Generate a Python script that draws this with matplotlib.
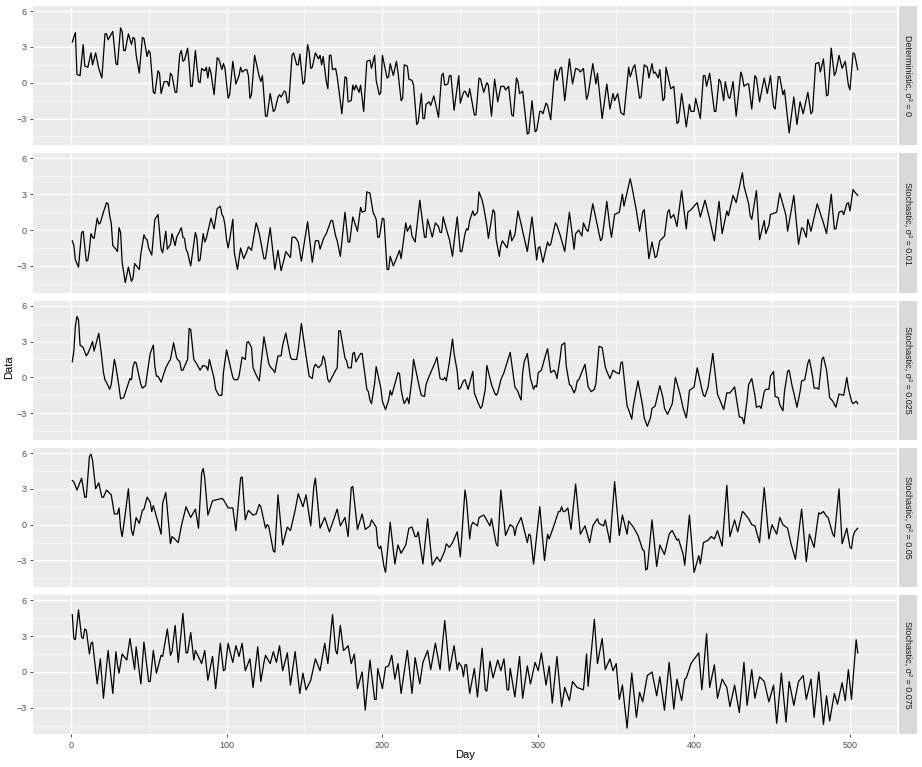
import numpy as np
import matplotlib.pyplot as plt

plt.rcParams['font.family'] = ['Liberation Sans', 'DejaVu Sans']

# facet labels (top to bottom)
panel_labels = ['Deterministic, σ² = 0',
                'Stochastic, σ² = 0.01',
                'Stochastic, σ² = 0.025',
                'Stochastic, σ² = 0.05',
                'Stochastic, σ² = 0.075']

x_ticks = [0, 100, 200, 300, 400, 500]
y_ticks = [-3, 0, 3, 6]

# (day, value), one list per facet
det_0 = [
    (1, 3.4), (3, 4.2), (4, 0.7), (6, 0.6), (8, 3.2), (9, 1.4), (11, 1.3), (13, 2.5), (14, 1.5),
    (16, 2.5), (18, 1.2), (20, 0.4), (22, 4.1), (23, 4.1), (24, 3.6), (27, 4.3), (29, 1.6), (30, 1.5),
    (32, 4.6), (33, 4.3), (34, 2.7), (35, 2.7), (37, 4.1), (39, 3.2), (40, 3.8), (41, 3.7), (42, 2.3),
    (44, 0.8), (46, 3.8), (47, 3.7), (49, 2.2), (50, 2.7), (51, 2.5), (53, -0.8), (54, -0.9), (56, 1.0),
    (57, 0.8), (58, -0.9), (60, 0.1), (62, 0.1), (63, -0.3), (64, 0.8), (65, 0.6), (67, -0.8), (68, -0.8),
    (70, 2.4), (71, 2.7), (72, 1.8), (73, 1.9), (75, 2.9), (76, 1.6), (77, -0.3), (78, -0.3), (80, 2.7),
    (82, 0.1), (83, 0.0), (84, 1.2), (86, 1.0), (87, 1.3), (88, 0.4), (89, 1.3), (90, 0.8), (92, -1.0),
    (94, 2.1), (95, 2.0), (97, 1.1), (98, 1.6), (99, 1.2), (101, -1.3), (102, -1.0), (104, 1.8),
    (106, -0.1), (108, 0.6), (109, 1.3), (110, 0.9), (112, 1.1), (113, 1.1), (114, 0.6), (115, -1.3),
    (116, -1.0), (118, 2.3), (121, 0.5), (122, 0.1), (123, 0.6), (125, -2.8), (126, -2.8), (128, -0.9),
    (130, -2.4), (131, -2.3), (133, -1.2), (134, -1.0), (135, -1.2), (137, -0.7), (138, -0.8),
    (139, -1.7), (140, -1.6), (142, 2.3), (143, 2.5), (145, 1.5), (146, 1.5), (147, 2.4), (149, -0.1),
    (150, 0.1), (152, 3.2), (153, 2.6), (154, 1.2), (155, 1.3), (157, 2.5), (159, 2.0), (160, 2.3),
    (161, 1.5), (162, 2.2), (164, 0.1), (165, -0.5), (166, 2.3), (167, 2.3), (168, 1.1), (170, 1.2),
    (171, 0.5), (174, -2.6), (176, 0.5), (177, 0.4), (178, -1.6), (180, -1.5), (181, -0.2), (182, -0.6),
    (183, -0.2), (185, -0.8), (186, -0.2), (188, -2.4), (190, 1.8), (192, 1.9), (193, 1.2), (195, 2.3),
    (196, 0.2), (198, -1.0), (199, -0.8), (200, 2.3), (203, 0.4), (204, 0.5), (205, 1.6), (207, 0.6),
    (209, 1.8), (210, 0.9), (212, -1.5), (213, -1.3), (214, 1.5), (216, 1.4), (217, 0.3), (219, 0.2),
    (220, -0.2), (222, -3.5), (223, -3.3), (225, -0.9), (226, -3.0), (227, -3.0), (228, -1.8),
    (230, -1.6), (231, -1.9), (233, -1.1), (236, -2.9), (238, 0.6), (239, 0.8), (240, -0.2), (242, -0.1),
    (243, 0.6), (244, 0.6), (246, -2.3), (249, 0.6), (250, -1.7), (252, -0.8), (253, -0.7), (255, -1.2),
    (256, -0.5), (259, -2.7), (260, -2.7), (262, 0.4), (263, 0.3), (265, -0.8), (267, 0.0), (268, -0.2),
    (270, -2.8), (272, 0.3), (274, -1.6), (276, -0.3), (278, -0.3), (279, -0.6), (281, -0.3), (283, -2.7),
    (284, -2.8), (286, 0.4), (287, 0.1), (288, -0.9), (290, -0.7), (293, -4.3), (294, -4.2), (296, -1.5),
    (298, -4.1), (299, -4.0), (301, -2.4), (302, -2.4), (303, -2.6), (305, -1.7), (306, -1.9),
    (308, -3.1), (310, 0.1), (311, 1.1), (312, 0.2), (314, 1.2), (315, 1.3), (317, -1.5), (320, 2.0),
    (322, -0.1), (324, 1.2), (326, 1.1), (327, 0.9), (329, 1.2), (331, -1.4), (332, -1.0), (335, 1.6),
    (337, -0.1), (338, 0.8), (341, -3.0), (344, -0.1), (346, -2.2), (348, -0.9), (349, -1.5), (351, -0.9),
    (353, -2.5), (355, -2.7), (358, 1.3), (359, 0.5), (361, 1.3), (362, 1.5), (365, -1.3), (366, -1.2),
    (368, 1.5), (370, 1.3), (371, 0.4), (373, 1.6), (374, 0.8), (375, 0.9), (377, 0.4), (378, 1.1),
    (380, -1.5), (381, -1.3), (382, 1.3), (385, -0.5), (387, -0.3), (389, -3.4), (390, -3.3), (392, -0.9),
    (395, -3.7), (397, -1.8), (398, -2.4), (400, -2.4), (401, -1.3), (404, -3.0), (406, 0.6), (407, 0.6),
    (408, -0.3), (410, 0.8), (413, -2.4), (414, -2.4), (416, 0.3), (417, 0.1), (419, -1.5), (420, 0.1),
    (422, -1.2), (423, -1.3), (425, 0.1), (427, -2.8), (430, 0.9), (431, 0.5), (432, -0.3), (434, -0.1),
    (435, -0.1), (437, -2.2), (439, 0.6), (440, 0.4), (442, -1.6), (445, 0.4), (447, -0.9), (449, 0.6),
    (451, -2.0), (452, -2.2), (454, 0.5), (455, 0.5), (457, -1.0), (458, -0.6), (461, -4.2), (464, -1.2),
    (466, -3.5), (468, -1.6), (470, -2.6), (473, -0.8), (475, -2.6), (476, -2.4), (478, 1.6), (480, 1.7),
    (481, 0.9), (483, 2.0), (485, -1.1), (486, -1.0), (488, 2.9), (490, 0.6), (491, 0.9), (493, 2.3),
    (495, 1.2), (497, 1.8), (499, -0.2), (500, -0.6), (502, 2.5), (503, 2.4), (505, 1.1)]

sto_010 = [
    (1, -0.9), (2, -1.3), (3, -2.5), (5, -3.1), (7, -0.2), (8, -0.1), (10, -2.6), (11, -2.5), (12, -1.6),
    (13, -0.3), (14, -0.6), (15, -0.7), (17, 1.0), (18, 0.5), (19, 0.6), (21, 1.5), (23, 2.3), (24, 2.2),
    (25, 1.2), (26, 0.6), (27, -1.3), (29, -1.6), (30, -1.8), (31, 0.2), (32, -0.2), (33, -2.7),
    (35, -4.4), (37, -3.1), (39, -4.3), (40, -4.0), (41, -2.8), (44, -3.3), (45, -2.0), (47, -0.4),
    (48, -0.7), (49, -0.8), (50, -1.5), (52, -2.1), (54, 0.9), (56, 1.3), (57, -0.2), (58, -1.6),
    (59, -1.9), (61, -0.1), (62, -1.6), (64, -1.2), (65, -0.3), (67, -1.3), (68, -0.6), (71, 0.2),
    (72, -0.6), (73, -0.7), (74, -1.6), (75, -1.9), (77, -3.0), (80, -0.2), (81, -0.7), (82, -2.6),
    (83, -2.5), (85, -0.3), (86, -1.0), (87, -0.7), (90, 1.0), (92, 0.1), (94, 1.8), (96, 2.0), (97, 1.3),
    (98, 1.1), (99, 0.4), (100, -0.8), (101, -1.5), (102, -0.8), (104, 0.9), (105, -1.9), (107, -3.3),
    (109, -1.5), (111, -2.4), (113, -1.8), (114, -1.4), (116, -1.7), (119, 0.6), (120, 0.2), (121, -0.3),
    (124, -2.4), (125, -2.4), (128, 0.2), (131, -3.3), (133, -1.7), (135, -3.4), (137, -2.4), (138, -1.8),
    (141, -2.3), (142, -0.6), (144, -0.6), (146, -1.0), (148, -2.6), (152, 0.7), (155, -2.7), (157, -0.9),
    (159, -0.9), (160, -1.6), (162, -0.8), (163, -0.5), (164, -0.3), (167, 0.8), (168, 0.8), (170, -0.5),
    (171, -0.9), (173, -2.2), (176, 1.5), (178, -1.0), (179, -1.0), (181, 1.1), (184, -0.1), (186, 1.9),
    (187, 1.5), (189, 1.6), (190, 3.2), (192, 3.1), (194, 1.5), (196, 0.9), (197, -0.6), (198, -0.6),
    (200, 1.0), (201, 0.9), (203, -3.3), (204, -3.3), (205, -2.2), (207, -3.0), (208, -2.7), (211, -1.7),
    (212, -2.4), (215, 0.6), (216, -0.1), (218, 0.4), (219, -0.5), (221, -1.0), (224, 2.5), (227, -0.6),
    (228, -0.6), (229, 0.9), (231, -0.1), (232, -0.6), (234, 0.6), (236, 0.3), (237, -0.2), (238, -0.2),
    (239, 1.1), (241, 0.1), (243, -0.8), (245, -2.2), (246, -1.0), (248, 1.1), (250, -1.8), (251, -1.8),
    (253, -0.3), (254, 0.1), (255, 0.0), (256, 0.8), (258, 1.6), (259, 1.2), (261, 1.5), (262, 3.2),
    (264, 2.5), (265, 1.9), (267, 0.4), (268, -0.7), (271, 1.7), (272, 1.5), (273, -0.8), (275, -2.2),
    (276, -1.3), (277, -0.9), (279, -1.3), (280, -1.5), (282, 0.0), (283, -0.9), (285, -0.4), (287, 1.6),
    (289, 0.5), (290, -0.1), (293, -1.8), (296, 1.1), (299, -2.5), (300, -1.5), (301, -1.4), (303, -2.7),
    (306, -1.0), (307, -1.3), (308, -1.2), (311, 0.6), (312, 0.4), (314, -0.4), (317, -1.8), (320, 1.5),
    (323, -1.6), (324, -0.3), (326, 0.0), (328, -0.5), (329, 0.6), (331, 0.0), (332, -0.1), (335, 2.2),
    (340, -0.9), (341, -0.7), (344, 2.4), (346, 0.2), (347, -0.6), (349, 1.3), (352, 1.5), (354, 3.0),
    (355, 2.0), (359, 4.3), (360, 3.7), (363, 1.6), (365, -0.1), (367, 1.5), (368, 1.7), (371, -2.4),
    (373, -1.0), (375, -2.3), (376, -2.2), (378, -0.9), (381, -0.5), (383, 1.5), (384, 1.7), (385, 1.0),
    (387, 1.3), (389, 0.3), (392, 3.3), (395, 0.1), (396, 1.5), (398, 1.7), (402, 2.3), (404, 1.1),
    (407, 2.5), (410, 0.9), (413, -0.9), (416, 2.4), (418, -0.3), (421, 1.6), (422, 1.2), (425, 2.9),
    (427, 2.3), (431, 4.8), (432, 3.7), (435, 2.2), (436, 1.2), (437, 0.9), (440, 3.3), (442, -0.8),
    (445, 0.8), (446, -0.3), (448, 0.4), (449, 1.3), (453, 1.5), (455, 3.1), (459, 1.2), (460, -0.1),
    (464, 2.9), (467, -1.2), (469, 0.2), (470, 0.1), (472, -0.6), (473, 0.9), (475, -0.1), (479, 2.2),
    (483, 0.6), (485, -0.3), (488, 3.0), (490, 0.1), (491, 0.1), (493, 1.5), (495, 1.6), (496, 1.3),
    (498, 2.2), (499, 2.3), (500, 1.6), (502, 3.4), (503, 3.2), (505, 2.9)]

sto_025 = [
    (1, 1.3), (2, 2.2), (3, 4.3), (4, 5.1), (5, 4.8), (6, 2.7), (8, 2.5), (10, 1.8), (11, 2.0), (12, 2.3),
    (14, 3.0), (15, 2.2), (18, 3.7), (20, 1.6), (21, 0.4), (22, -0.2), (24, -0.7), (25, -1.0), (26, -0.6),
    (28, 1.5), (29, 0.9), (31, -0.8), (32, -1.8), (34, -1.7), (36, -0.9), (38, -0.1), (39, -0.2),
    (40, 0.9), (41, 1.3), (42, 1.2), (45, -0.6), (46, -0.9), (47, -0.8), (48, -0.7), (51, 2.0), (53, 2.7),
    (54, 0.9), (55, 0.1), (56, 0.1), (58, -0.4), (61, 0.8), (63, 1.3), (64, 1.5), (66, 2.9), (68, 1.6),
    (70, 1.3), (71, 0.6), (72, 0.6), (75, 1.5), (76, 4.1), (77, 4.0), (79, 1.5), (81, 1.1), (83, 0.6),
    (85, 1.0), (87, 0.9), (88, 0.6), (89, 1.5), (92, -0.1), (93, -1.0), (95, -1.5), (97, -1.5), (98, 0.4),
    (100, 2.3), (103, 0.6), (104, 0.0), (105, -0.2), (107, -0.2), (108, 0.1), (110, 1.7), (112, 1.5),
    (113, 2.9), (114, 3.0), (116, 2.5), (117, 0.8), (118, 0.5), (119, 0.2), (121, -0.3), (124, 3.4),
    (127, 1.2), (128, 0.9), (130, 0.6), (131, 0.4), (133, 1.8), (135, 1.8), (136, 2.7), (138, 3.7),
    (141, 1.7), (142, 1.5), (144, 1.5), (145, 1.5), (146, 2.3), (148, 4.5), (151, 1.8), (153, 0.1),
    (155, -0.1), (156, 0.8), (157, 1.1), (159, 0.8), (161, 1.1), (162, 1.8), (163, 1.5), (165, -0.2),
    (166, -0.4), (170, 0.6), (171, 0.8), (172, 3.9), (173, 3.9), (176, 1.6), (177, 1.4), (178, 0.8),
    (180, 0.8), (181, 2.0), (182, 2.1), (183, 1.3), (186, 2.0), (187, 2.0), (190, -1.0), (191, -1.2),
    (192, -1.9), (193, -2.2), (195, -0.5), (196, 0.9), (199, -0.9), (200, -2.0), (202, -2.7), (204, -1.9),
    (205, -1.1), (206, -1.5), (210, 0.4), (211, 0.3), (212, -1.0), (213, -1.7), (214, -2.2), (216, -1.7),
    (217, -2.2), (219, -0.1), (220, 1.5), (224, -1.0), (225, -1.5), (227, -1.6), (228, -0.6), (230, 0.1),
    (234, 1.3), (235, 1.7), (237, -0.1), (239, -0.2), (240, 0.0), (241, -0.3), (243, 1.3), (245, 3.2),
    (246, 2.0), (248, 0.5), (249, -1.0), (250, -0.9), (252, -0.3), (253, -0.2), (255, -1.0), (258, 0.5),
    (259, -1.3), (261, -2.0), (263, -2.6), (264, -2.4), (266, -1.0), (267, 1.0), (270, -0.6), (272, -1.3),
    (273, -1.5), (274, -1.3), (276, -0.2), (278, 0.4), (282, 2.1), (285, -0.8), (287, -1.2), (288, -1.6),
    (289, -1.9), (290, 0.4), (291, 1.3), (293, 2.0), (295, -0.1), (297, -1.0), (298, -0.7), (299, -0.8),
    (300, 0.4), (302, 0.6), (305, 2.0), (306, 2.4), (308, 0.4), (310, 0.6), (311, 0.4), (312, -0.1),
    (314, 1.6), (315, 2.7), (317, 2.9), (318, 0.9), (320, -0.6), (321, -0.7), (323, -1.3), (324, -1.0),
    (325, -0.3), (326, -0.2), (330, 1.1), (332, -0.8), (334, -1.2), (336, -1.0), (337, -0.5), (339, 2.6),
    (341, 2.5), (343, 0.9), (344, 0.5), (346, -0.1), (348, 0.6), (350, 0.4), (352, 0.3), (353, 1.2),
    (354, 1.3), (357, -2.4), (358, -2.7), (360, -3.5), (361, -2.4), (364, -0.3), (367, -2.4), (368, -3.4),
    (370, -4.1), (372, -3.4), (373, -2.6), (375, -2.4), (378, -0.7), (380, -1.7), (381, -2.6), (383, -3.1),
    (384, -2.8), (386, -2.2), (388, 0.0), (391, -1.4), (393, -2.6), (395, -3.4), (396, -2.4), (397, -1.1),
    (400, -0.8), (402, 0.8), (405, -1.0), (406, -1.5), (407, -1.6), (409, -0.8), (412, 2.0), (415, -1.4),
    (419, -2.7), (421, -1.3), (423, -1.3), (426, -0.8), (429, -3.3), (431, -3.4), (432, -3.9), (434, -1.9),
    (435, -0.6), (437, -0.1), (439, -1.5), (440, -2.5), (442, -2.4), (443, -2.6), (445, -1.2), (446, -1.0),
    (448, -1.0), (449, 0.1), (451, 0.5), (452, -1.6), (454, -1.7), (455, -2.3), (457, -2.8), (458, -1.2),
    (460, 0.5), (461, 0.6), (463, -0.8), (464, -1.3), (466, -2.5), (468, -1.2), (469, -0.3), (471, -0.2),
    (473, 1.2), (474, 1.5), (476, 0.1), (477, -0.9), (479, -0.9), (480, -1.0), (482, 1.5), (483, 1.7),
    (485, 0.6), (487, -1.7), (489, -2.0), (491, -2.5), (493, -1.4), (496, -1.5), (498, 0.0), (499, -0.9),
    (501, -2.0), (502, -2.2), (504, -2.0), (505, -2.2)]

sto_050 = [
    (1, 3.7), (2, 3.6), (4, 2.9), (7, 3.9), (9, 2.3), (10, 2.3), (12, 5.7), (13, 5.9), (14, 5.4), (16, 3.0),
    (18, 3.5), (20, 2.3), (21, 2.3), (23, 2.9), (26, 2.5), (28, 0.9), (30, 0.9), (31, 1.4), (32, -0.3),
    (33, -1.0), (35, 0.9), (37, 3.0), (39, -0.5), (40, -0.9), (42, 0.6), (44, 0.1), (46, 1.2), (47, 1.3),
    (49, 2.3), (51, 1.9), (52, 1.1), (53, 1.6), (56, 0.2), (58, -0.8), (59, 1.8), (61, 2.7), (64, -1.6),
    (65, -1.0), (66, -1.1), (69, -1.5), (71, -0.1), (74, 1.5), (77, 0.6), (80, 1.3), (82, -0.3), (84, 4.3),
    (85, 4.7), (86, 3.9), (88, 0.8), (91, 2.0), (97, 2.2), (98, 2.1), (101, 1.4), (104, 1.4), (106, -0.5),
    (109, 3.9), (110, 4.0), (112, 0.4), (114, 1.2), (117, 0.8), (119, 0.9), (121, 1.7), (122, 1.5),
    (125, -0.3), (126, 0.0), (127, -0.1), (130, -2.2), (131, -2.3), (133, 2.5), (136, -1.7), (139, -0.2),
    (141, -0.5), (144, 1.2), (145, 1.9), (146, 2.6), (149, 1.5), (151, 2.5), (154, -0.1), (156, 3.2),
    (157, 3.9), (160, -0.3), (163, 0.6), (166, -0.6), (171, 1.3), (173, -0.1), (176, 0.6), (178, -1.0),
    (180, 3.1), (181, 3.2), (184, -0.4), (187, 0.9), (189, -0.4), (192, -0.1), (193, 0.4), (196, -0.2),
    (197, -1.7), (198, -2.0), (199, -1.8), (201, -3.5), (202, -4.0), (205, 0.2), (208, -3.3), (210, -1.7),
    (212, -2.4), (215, -1.7), (217, -0.3), (219, -0.2), (221, -1.0), (222, -1.0), (223, -0.6), (226, -3.3),
    (229, 0.5), (232, -3.4), (235, -2.7), (237, -3.1), (240, -2.2), (241, -1.6), (243, -1.9), (245, -1.5),
    (248, -0.6), (249, -1.6), (250, -2.7), (253, 2.9), (254, 2.0), (256, -1.2), (257, -0.1), (258, 0.2),
    (261, -0.1), (262, 0.6), (265, 0.8), (266, 0.6), (269, -0.1), (270, 0.5), (273, -1.6), (274, -1.8),
    (276, 2.9), (279, -0.9), (282, 0.0), (284, -0.2), (285, -0.9), (286, -0.2), (289, 0.6), (293, -1.5),
    (294, -0.8), (295, -0.9), (297, -3.3), (301, 1.5), (304, -3.0), (306, -0.8), (307, -1.2), (310, -0.1),
    (313, 1.1), (314, 1.1), (315, 1.5), (316, 1.1), (317, 1.1), (319, 1.4), (321, -0.4), (324, 3.4),
    (327, -0.8), (330, -0.1), (333, -1.5), (335, -0.1), (338, 0.5), (339, 0.1), (342, -0.1), (343, 0.4),
    (346, -1.5), (349, 3.6), (352, -0.9), (354, 0.8), (357, -0.8), (358, 0.3), (361, -0.2), (364, -0.9),
    (367, -2.1), (368, -2.2), (369, -3.8), (370, -3.7), (373, 0.4), (376, -3.5), (378, -1.7), (381, -2.5),
    (384, -0.8), (385, -0.6), (386, -0.5), (389, -1.3), (390, -1.2), (393, -2.5), (394, -3.4), (397, 0.8),
    (400, -4.0), (403, -2.6), (404, -3.3), (406, -1.5), (409, -1.3), (411, -1.0), (413, -1.2), (415, -0.5),
    (418, -1.8), (421, 3.3), (423, -1.0), (426, 0.4), (428, -0.6), (431, 1.1), (432, 1.0), (435, 0.5),
    (437, 0.0), (439, -0.1), (442, -1.5), (445, 3.1), (448, -1.2), (450, 0.0), (453, -0.8), (455, 0.6),
    (457, 0.0), (460, -0.3), (462, -1.5), (465, -2.9), (469, 1.3), (472, -3.1), (474, -0.8), (477, -1.9),
    (479, 0.1), (480, 1.0), (481, 0.9), (483, 1.1), (485, 0.7), (486, 0.6), (489, -0.8), (490, -1.0),
    (493, 3.0), (495, -1.6), (498, -0.3), (500, -1.9), (501, -2.0), (502, -1.0), (503, -0.6), (505, -0.3)]

sto_075 = [
    (1, 4.8), (2, 2.8), (3, 2.7), (5, 5.2), (7, 2.9), (8, 2.8), (9, 3.6), (10, 3.5), (12, 1.5), (13, 2.4),
    (14, 2.5), (17, -1.0), (19, 1.1), (21, -2.2), (24, 1.8), (27, -1.8), (29, 1.7), (30, 0.6), (31, -0.1),
    (33, 1.5), (36, 1.0), (38, 2.8), (41, 0.2), (42, 2.1), (45, -1.0), (47, 2.5), (50, -0.8), (51, -0.8),
    (53, 1.8), (55, -0.1), (58, 1.4), (59, 1.3), (62, 3.6), (64, 1.4), (65, 1.7), (67, 3.9), (69, 0.8),
    (72, 4.9), (74, 1.6), (75, 1.6), (77, 3.3), (79, 1.0), (80, 1.8), (83, 1.0), (84, 0.7), (86, 1.8),
    (88, -0.7), (91, 1.3), (93, -1.4), (96, 2.4), (98, 0.1), (99, 0.2), (101, 2.4), (103, 1.3), (104, 0.8),
    (106, 2.2), (108, 1.3), (110, 2.4), (112, 0.1), (115, 1.1), (117, -1.3), (120, 2.1), (122, -0.8),
    (124, 0.8), (125, 1.4), (128, 0.7), (130, 1.7), (132, 0.8), (134, 2.2), (136, 0.1), (139, 1.6),
    (141, -1.1), (144, 1.7), (147, -1.8), (149, -0.1), (151, -1.5), (154, -0.7), (157, 1.1), (160, 0.1),
    (163, 2.4), (165, 0.7), (168, 4.8), (170, 1.8), (171, 1.5), (173, 3.9), (175, 1.8), (176, 1.9),
    (178, 2.2), (180, 0.7), (182, 1.5), (184, -1.4), (187, 0.0), (189, -3.2), (192, 1.0), (195, -2.3),
    (196, -2.3), (197, 0.3), (200, -1.4), (202, 0.4), (204, 0.5), (206, 1.4), (208, -0.6), (210, 0.7),
    (212, -1.8), (216, 1.8), (219, -1.8), (221, 1.2), (224, -1.0), (226, 0.8), (229, 1.8), (231, 0.2),
    (234, 2.4), (237, 0.2), (240, 4.3), (243, 0.1), (246, 2.2), (248, 0.2), (249, 0.8), (251, 0.4),
    (252, -0.4), (253, 0.6), (254, 0.6), (256, -1.8), (259, 0.3), (261, -2.1), (264, 2.0), (266, -1.5),
    (267, -1.6), (269, 0.9), (271, -0.5), (274, 1.0), (276, 0.1), (278, 1.1), (280, -1.5), (281, -1.5),
    (282, 0.3), (285, -2.1), (288, 1.3), (290, -2.2), (293, 0.5), (295, -1.0), (298, 0.8), (300, 0.1),
    (302, 1.6), (305, -1.1), (307, 0.5), (309, -2.6), (312, 1.3), (315, -2.9), (317, -1.3), (320, -2.4),
    (322, -0.8), (325, -1.3), (329, -1.5), (331, 1.5), (332, -1.2), (336, 4.4), (338, 0.7), (341, 2.8),
    (343, 0.2), (346, 1.1), (348, 0.1), (350, 0.7), (352, -2.3), (354, -1.1), (357, -4.7), (360, -0.1),
    (363, -3.8), (365, -1.7), (367, -2.5), (370, -0.3), (373, 0.0), (376, -2.0), (378, -0.4), (381, -3.2),
    (384, 0.8), (387, -3.1), (389, -0.6), (392, -2.4), (394, -0.6), (395, -0.5), (398, 0.7), (403, 1.6),
    (405, -1.5), (408, 3.2), (410, -1.3), (413, 0.6), (415, -2.2), (418, -0.6), (421, -1.3), (423, -2.9),
    (426, -1.1), (429, -3.4), (432, 0.8), (434, -2.8), (437, 0.2), (439, -2.2), (442, -0.4), (445, -0.8),
    (448, -2.5), (451, -1.1), (453, -4.3), (456, -0.1), (459, -4.2), (461, -0.8), (464, -2.8), (467, -0.8),
    (470, -0.3), (472, -2.3), (475, -0.6), (477, -3.8), (480, 0.0), (483, -4.4), (485, -2.0), (487, -4.1),
    (490, -1.8), (492, -2.7), (495, -0.9), (497, -2.4), (499, 0.2), (501, -2.3), (504, 2.7), (505, 1.6)]

series = [det_0, sto_010, sto_025, sto_050, sto_075]

W, H = 922, 767
fig = plt.figure(figsize=(W / 100, H / 100), dpi=100)

# panel geometry in pixels
left, right = 33, 897
top0, ph, step = 6, 139.2, 147.3
strip_x, strip_w = 899, 18

for k, data in enumerate(series):
    top = top0 + k * step
    ax = fig.add_axes([left / W, 1 - (top + ph) / H, (right - left) / W, ph / H])
    ax.set_facecolor('#EBEBEB')
    days, vals = zip(*data)
    ax.plot(days, vals, color='black', lw=0.9)
    ax.set_xlim(-24.2, 530.2)
    ax.set_ylim(-5.23, 6.43)
    ax.set_xticks(x_ticks)
    ax.set_xticks([50, 150, 250, 350, 450], minor=True)
    ax.set_yticks(y_ticks)
    ax.set_yticks([-4.5, -1.5, 1.5, 4.5], minor=True)
    ax.grid(which='major', color='white', lw=1.0)
    ax.grid(which='minor', color='white', lw=0.5)
    ax.set_axisbelow(True)
    for s in ax.spines.values():
        s.set_visible(False)
    ax.tick_params(which='minor', length=0)
    ax.tick_params(which='major', length=2.5, width=0.6, color='#333333',
                   labelsize=6.5, labelcolor='#4D4D4D', pad=2)
    if k < 4:
        ax.tick_params(axis='x', bottom=False, labelbottom=False)

    # facet strip on the right
    sax = fig.add_axes([strip_x / W, 1 - (top + ph) / H, strip_w / W, ph / H])
    sax.set_facecolor('#D9D9D9')
    sax.set_xticks([])
    sax.set_yticks([])
    for s in sax.spines.values():
        s.set_visible(False)
    sax.text(0.5, 0.5, panel_labels[k], rotation=-90, ha='center', va='center',
             fontsize=6.5, color='#1A1A1A', transform=sax.transAxes)

fig.text((left + right) / 2 / W, 1 - 755 / H, 'Day', ha='center', va='center', fontsize=8)
fig.text(9 / W, 1 - 367 / H, 'Data', ha='center', va='center', rotation=90, fontsize=8)

fig.savefig('out.png', dpi=100)
